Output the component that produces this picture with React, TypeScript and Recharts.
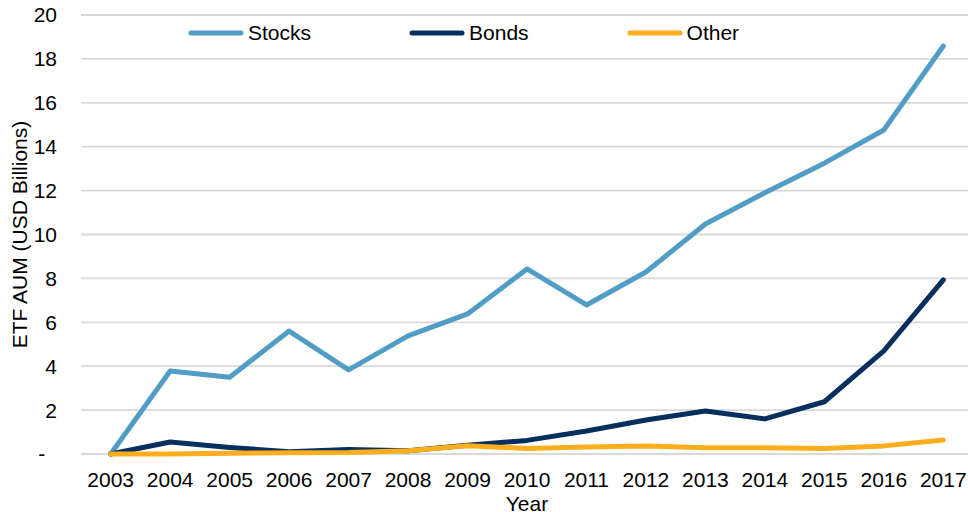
import React from 'react';
import { LineChart, Line, XAxis, YAxis, CartesianGrid, Legend } from 'recharts';

const years = ['2003','2004','2005','2006','2007','2008','2009','2010','2011','2012','2013','2014','2015','2016','2017'];
const stocks = [0, 3.78, 3.5, 5.6, 3.83, 5.38, 6.38, 8.43, 6.79, 8.29, 10.48, 11.9, 13.25, 14.76, 18.59];
const bonds = [0, 0.55, 0.3, 0.1, 0.2, 0.15, 0.4, 0.62, 1.05, 1.55, 1.96, 1.6, 2.38, 4.7, 7.93];
const other = [0, 0, 0.03, 0.06, 0.07, 0.15, 0.38, 0.25, 0.32, 0.36, 0.29, 0.29, 0.25, 0.37, 0.64];
const yTicks = [0, 2, 4, 6, 8, 10, 12, 14, 16, 18, 20];

const seriesInfo = [
  { key: 'Stocks', color: '#529DC5' },
  { key: 'Bonds', color: '#062F5E' },
  { key: 'Other', color: '#FDAE1E' },
];

const data = years.map((y, i) => ({ year: y, Stocks: stocks[i], Bonds: bonds[i], Other: other[i] }));

const FONT = '"Liberation Sans", Arial, sans-serif';

const renderLegend = () => (
  <div style={{ display: 'flex', alignItems: 'center', paddingLeft: 188, height: 24, fontFamily: FONT, fontSize: 21, color: '#000' }}>
    {seriesInfo.map((s, i) => (
      <div key={s.key} style={{ display: 'flex', alignItems: 'center', marginRight: i < seriesInfo.length - 1 ? 98 : 0 }}>
        <svg width={56} height={10} style={{ display: 'block' }}>
          <line x1={3} y1={5} x2={53} y2={5} stroke={s.color} strokeWidth={5} strokeLinecap="round" />
        </svg>
        <span style={{ marginLeft: 4, lineHeight: '24px' }}>{s.key}</span>
      </div>
    ))}
  </div>
);

export default function App() {
  return (
    <div style={{ position: 'absolute', left: 0, top: 0, width: 968, height: 512, overflow: 'hidden', background: '#fff' }}>
      <LineChart width={980} height={512} data={data} margin={{ top: 15, right: 7, bottom: 0, left: 0 }}>
        <CartesianGrid vertical={false} stroke="#d9d9d9" strokeWidth={1.8} />
        <XAxis
          dataKey="year"
          axisLine={false}
          tickLine={false}
          tickMargin={12}
          height={58}
          padding={{ left: 29.7, right: 29.7 }}
          interval={0}
          tick={{ fill: '#000', fontSize: 21, fontFamily: FONT }}
          label={{ value: 'Year', position: 'insideBottom', offset: 1, fill: '#000', fontSize: 21, fontFamily: FONT }}
        />
        <YAxis
          width={81}
          domain={[0, 20]}
          ticks={yTicks}
          interval={0}
          axisLine={false}
          tickLine={false}
          tickMargin={18}
          tickFormatter={(v: number) => (v === 0 ? '-\u00a0\u00a0' : String(v))}
          tick={{ fill: '#000', fontSize: 21, fontFamily: FONT }}
          label={{ value: 'ETF AUM (USD Billions)', angle: -90, position: 'insideLeft', offset: 20, fill: '#000', fontSize: 21, fontFamily: FONT, style: { textAnchor: 'middle' } }}
        />
        <Legend layout="horizontal" verticalAlign="middle" align="center" content={renderLegend} wrapperStyle={{ top: 21, left: 0, width: 980 }} />
        {seriesInfo.map((s) => (
          <Line
            key={s.key}
            type="linear"
            dataKey={s.key}
            stroke={s.color}
            strokeWidth={5}
            dot={false}
            activeDot={false}
            strokeLinejoin="round"
            strokeLinecap="round"
            isAnimationActive={false}
          />
        ))}
      </LineChart>
    </div>
  );
}
